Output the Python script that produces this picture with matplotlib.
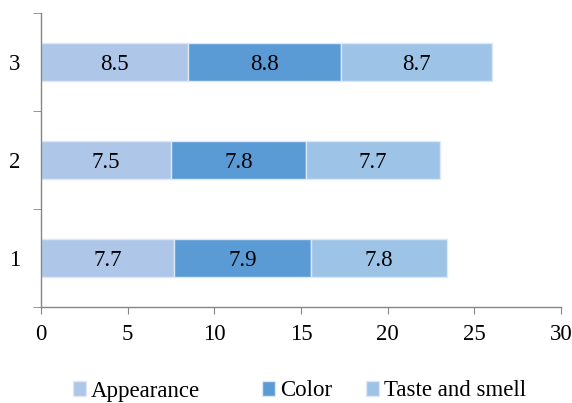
import matplotlib.pyplot as plt
import numpy as np

# Scores per sample, stacked by attribute
samples = ["1", "2", "3"]
appearance = [7.7, 7.5, 8.5]
color = [7.9, 7.8, 8.8]
taste_smell = [7.8, 7.7, 8.7]
series_names = ["Appearance", "Color", "Taste and smell"]
series_colors = ["#aec6e8", "#5b9bd5", "#9dc3e6"]

plt.rcParams['font.family'] = ['Liberation Serif', 'DejaVu Serif']
FS = 16.5

fig = plt.figure(figsize=(5.72, 4.03), dpi=100)
ax = fig.add_axes([41 / 572, 1 - 307 / 403, 520 / 572, 294 / 403])

y = np.arange(len(samples))
left = np.zeros(len(samples))
handles = []
for name, vals, col in zip(series_names, [appearance, color, taste_smell], series_colors):
    bars = ax.barh(y, vals, left=left, height=0.39, color=col,
                   edgecolor="#dce8f5", linewidth=1.0, label=name)
    handles.append(bars)
    for b, v in zip(bars, vals):
        ax.text(b.get_x() + b.get_width() / 2, b.get_y() + b.get_height() / 2,
                f"{v:.1f}", ha="center", va="center_baseline", fontsize=FS)
    left += np.array(vals)

ax.set_xlim(0, 30)
ax.set_ylim(-0.5, 2.5)
ax.set_xticks(range(0, 31, 5))
ax.set_yticks(y)
ax.set_yticklabels(samples)
ax.set_yticks([-0.5, 0.5, 1.5, 2.5], minor=True)

for s in ["top", "right"]:
    ax.spines[s].set_visible(False)
for s in ["left", "bottom"]:
    ax.spines[s].set_color("#868686")
    ax.spines[s].set_linewidth(1.0)

ax.tick_params(axis="x", direction="out", length=5, color="#868686",
               labelsize=FS, pad=7)
ax.tick_params(axis="y", which="major", length=0, labelsize=FS, pad=15)
ax.tick_params(axis="y", which="minor", direction="out", length=6, color="#868686")

# one legend entry per series, spaced like the original layout
legend_x = [73, 262, 366]
for h, name, lx in zip(handles, series_names, legend_x):
    leg = fig.legend([h], [name], loc="center left",
                     bbox_to_anchor=(lx / 572, 1 - 391 / 403),
                     frameon=False, fontsize=FS, borderpad=0, borderaxespad=0,
                     handlelength=0.58, handleheight=0.58, handletextpad=0.2)

plt.savefig("out.png", dpi=100)
